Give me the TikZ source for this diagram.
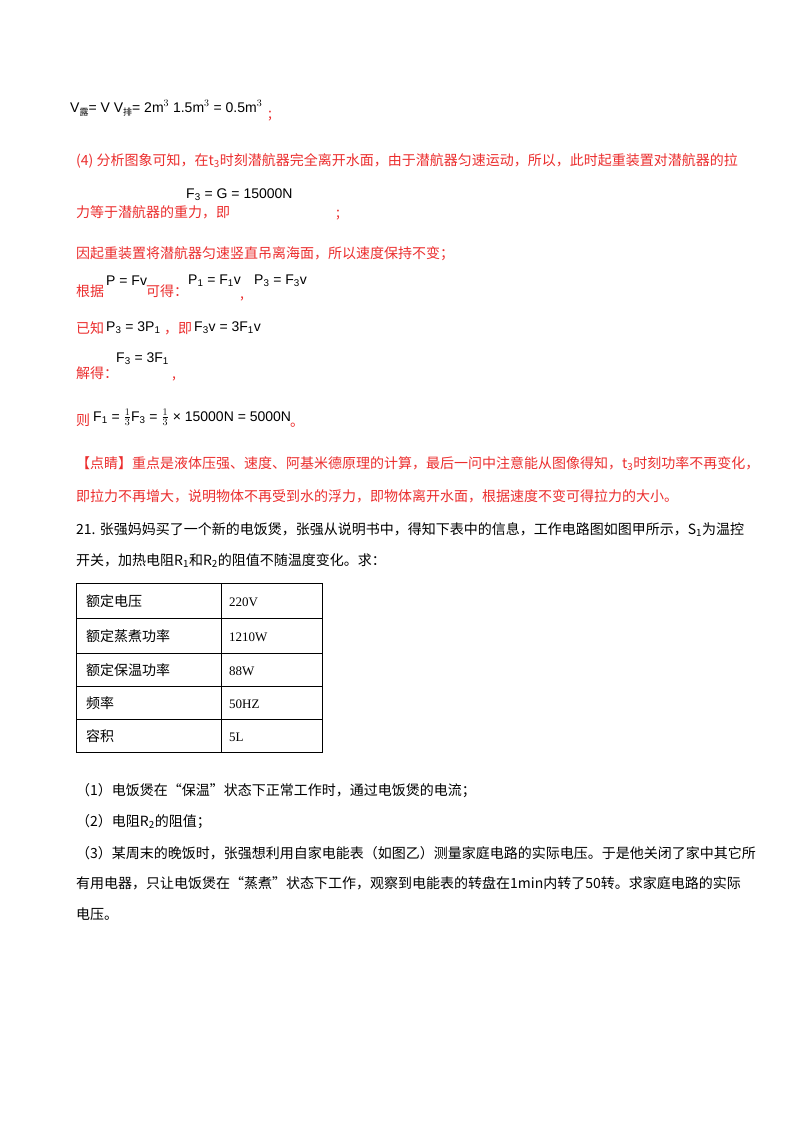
\documentclass[tikz,border=0pt]{standalone}
\usepackage{fontspec}
\setmainfont{Liberation Serif}
\newfontfamily\cjk{Noto Sans CJK SC}
\newfontfamily\fm{Liberation Sans}
\definecolor{rd}{RGB}{235,45,45}
\begin{document}
\begin{tikzpicture}[x=1pt,y=-1pt,
  t/.style={anchor=base west,inner sep=0pt,font=\cjk\fontsize{14}{16}\selectfont},
  r/.style={t,text=rd},
  f/.style={anchor=base west,inner sep=0pt,font=\fm\fontsize{14}{16}\selectfont}]
\useasboundingbox (0,0) rectangle (800,1132);
\node[f] (l1) at (70,112) {V\raisebox{-3pt}{\cjk\fontsize{9}{9}\selectfont 露}= V V\raisebox{-3pt}{\cjk\fontsize{9}{9}\selectfont 排}= 2m$^{3}$ 1.5m$^{3}$ = 0.5m$^{3}$};
\node[r] (l1b) at (268,118) {;};
\node[r] (l2) at (76,165) {(4) 分析图象可知，在t\textsubscript{3}时刻潜航器完全离开水面，由于潜航器匀速运动，所以，此时起重装置对潜航器的拉};
\node[f] (l3f) at (186,198) {F\textsubscript{3} = G = 15000N};
\node[r] (l3) at (76,217) {力等于潜航器的重力，即};
\node[r] (l3b) at (336,217) {;};
\node[r] (l4) at (76,258) {因起重装置将潜航器匀速竖直吊离海面，所以速度保持不变；};
\node[r] (l5) at (76,296) {根据};
\node[f] (l5a) at (106,285) {P = Fv};
\node[r] (l5b) at (146,296) {可得：};
\node[f] (l5c) at (188,284) {P\textsubscript{1} = F\textsubscript{1}v};
\node[r] (l5d) at (240,298) {,};
\node[f] (l5e) at (254,284) {P\textsubscript{3} = F\textsubscript{3}v};
\node[r] (l6) at (76,333) {已知};
\node[f] (l6a) at (106,331) {P\textsubscript{3} = 3P\textsubscript{1}};
\node[r] (l6b) at (164,333) {，即};
\node[f] (l6c) at (194,331) {F\textsubscript{3}v = 3F\textsubscript{1}v};
\node[r] (l7) at (76,378) {解得：};
\node[f] (l7a) at (116,362) {F\textsubscript{3} = 3F\textsubscript{1}};
\node[r] (l7b) at (172,378) {,};
\node[r] (l8) at (76,425) {则};
\node[f] (l8a) at (93,421) {F\textsubscript{1} = $\frac{1}{3}$F\textsubscript{3} = $\frac{1}{3}$ × 15000N = 5000N};
\node[r] (l8b) at (290,426) {。};
\node[r] (l9) at (76,468) {【点睛】重点是液体压强、速度、阿基米德原理的计算，最后一问中注意能从图像得知，t\textsubscript{3}时刻功率不再变化，};
\node[r] (l10) at (76,501) {即拉力不再增大，说明物体不再受到水的浮力，即物体离开水面，根据速度不变可得拉力的大小。};
\node[t] (q1) at (76,534) {21. 张强妈妈买了一个新的电饭煲，张强从说明书中，得知下表中的信息，工作电路图如图甲所示，S\textsubscript{1}为温控};
\node[t] (q2) at (76,565) {开关，加热电阻R\textsubscript{1}和R\textsubscript{2}的阻值不随温度变化。求：};
\draw[line width=0.8pt] (76,583) rectangle (322,752);
\foreach \yy in {618,653,686,719} \draw[line width=0.8pt] (76,\yy) -- (322,\yy);
\draw[line width=0.8pt] (221,583) -- (221,752);
\node[t] (c1) at (86,606) {额定电压};
\node[t] (c2) at (86,641) {额定蒸煮功率};
\node[t] (c3) at (86,675) {额定保温功率};
\node[t] (c4) at (86,708) {频率};
\node[t] (c5) at (86,741) {容积};
\node[t,font=\rmfamily\fontsize{13}{15}\selectfont] (d1) at (229,606) {220V};
\node[t,font=\rmfamily\fontsize{13}{15}\selectfont] (d2) at (229,641) {1210W};
\node[t,font=\rmfamily\fontsize{13}{15}\selectfont] (d3) at (229,675) {88W};
\node[t,font=\rmfamily\fontsize{13}{15}\selectfont] (d4) at (229,708) {50HZ};
\node[t,font=\rmfamily\fontsize{13}{15}\selectfont] (d5) at (229,741) {5L};
\node[t] (p1) at (76,795) {（1）电饭煲在“保温”状态下正常工作时，通过电饭煲的电流；};
\node[t] (p2) at (76,826) {（2）电阻R\textsubscript{2}的阻值；};
\node[t] (p3) at (76,858) {（3）某周末的晚饭时，张强想利用自家电能表（如图乙）测量家庭电路的实际电压。于是他关闭了家中其它所};
\node[t] (p4) at (76,888) {有用电器，只让电饭煲在“蒸煮”状态下工作，观察到电能表的转盘在1min内转了50转。求家庭电路的实际};
\node[t] (p5) at (76,919) {电压。};
\end{tikzpicture}
\end{document}
